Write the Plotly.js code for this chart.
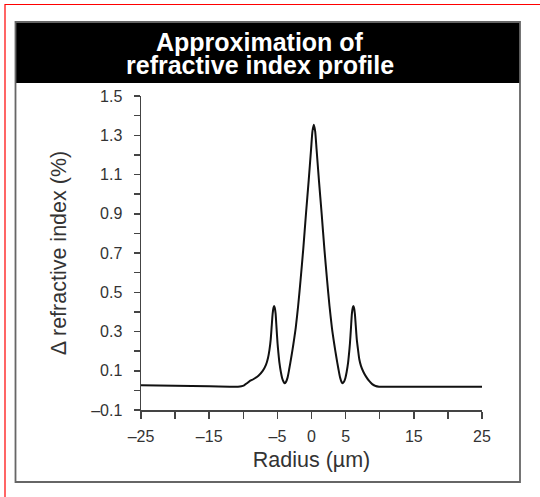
<!DOCTYPE html>
<html><head><meta charset="utf-8">
<script src="https://cdn.plot.ly/plotly-3.0.1.min.js"></script>
<style>html,body{margin:0;padding:0;background:#fff;overflow:hidden}#chart{width:540px;height:497px}</style>
</head><body><div id="chart"></div>
<script>
// Radius (µm)
const radius = [-25, -20, -15, -12, -10.78, -10.28, -9.88, -9.48, -9.15, -8.48, -7.78, -7.18, -6.68, -6.38, -6.17, -5.98, -5.83, -5.70, -5.58, -5.48, -5.38, -5.26, -5.13, -4.98, -4.85, -4.70, -4.50, -4.30, -4.10, -3.95, -3.76, -3.51, -3.26, -2.96, -2.66, -2.31, -1.96, -1.61, -1.21, -0.81, -0.41, -0.06, 0.14, 0.34, 0.54, 0.74, 1.09, 1.49, 1.89, 2.29, 2.64, 2.99, 3.34, 3.64, 3.94, 4.19, 4.39, 4.54, 4.76, 4.96, 5.16, 5.36, 5.51, 5.64, 5.79, 5.92, 6.04, 6.14, 6.24, 6.36, 6.49, 6.64, 6.83, 7.0, 7.25, 7.6, 8.0, 8.45, 8.9, 9.4, 9.9, 12, 15, 20, 25];
// Δ refractive index (%)
const deltaN = [0.026, 0.024, 0.021, 0.019, 0.019, 0.021, 0.026, 0.036, 0.045, 0.058, 0.075, 0.098, 0.13, 0.165, 0.205, 0.26, 0.33, 0.39, 0.42, 0.43, 0.42, 0.39, 0.32, 0.24, 0.19, 0.14, 0.095, 0.062, 0.044, 0.036, 0.042, 0.065, 0.11, 0.17, 0.235, 0.32, 0.43, 0.56, 0.72, 0.9, 1.07, 1.23, 1.32, 1.354, 1.32, 1.23, 1.07, 0.9, 0.72, 0.56, 0.43, 0.32, 0.235, 0.17, 0.11, 0.065, 0.044, 0.036, 0.044, 0.062, 0.095, 0.14, 0.19, 0.24, 0.32, 0.39, 0.42, 0.43, 0.42, 0.39, 0.33, 0.26, 0.205, 0.16, 0.125, 0.095, 0.07, 0.048, 0.032, 0.022, 0.019, 0.019, 0.018, 0.018, 0.018];

const xTickVals = [-25, -15, -5, 0, 5, 15, 25];
const xTickText = ['\u201325', '\u201315', '\u20135', '0', '5', '15', '25'];
const yTickVals = [-0.1, 0.1, 0.3, 0.5, 0.7, 0.9, 1.1, 1.3, 1.5];
const yTickText = ['\u20130.1', '0.1', '0.3', '0.5', '0.7', '0.9', '1.1', '1.3', '1.5'];
const titleLines = ['Approximation of', 'refractive index profile'];
const xTitle = 'Radius (\u00b5m)';
const yTitle = '\u0394 refractive index (%)';

const W = 540, H = 497, L = 141, R = 482, T = 96, B = 410;
const px = x => (x - L) / (R - L);
const py = y => (B - y) / (B - T);
const FONT = 'Liberation Sans, Arial, sans-serif';

const trace = {
  x: radius, y: deltaN, type: 'scatter', mode: 'lines',
  line: {color: '#111', width: 2, shape: 'spline', smoothing: 0.6},
  hoverinfo: 'skip'
};

const layout = {
  width: W, height: H,
  margin: {l: L, r: W - R, t: T, b: H - B, pad: 0},
  paper_bgcolor: 'rgba(0,0,0,0)', plot_bgcolor: 'rgba(0,0,0,0)',
  showlegend: false,
  font: {family: FONT, color: '#333'},
  xaxis: {
    range: [-25, 25], showgrid: false, zeroline: false,
    showline: true, linecolor: '#444', linewidth: 1.5,
    ticks: 'outside', ticklen: 7, tickwidth: 1.5, tickcolor: '#444',
    tickmode: 'array', tickvals: xTickVals, ticktext: xTickText,
    minor: {dtick: 5, tick0: 0, ticks: 'outside', ticklen: 7, tickwidth: 1.5, tickcolor: '#444', showgrid: false},
    tickfont: {size: 16, color: '#333', family: FONT},
    ticklabelstandoff: 4,
    title: {text: xTitle, font: {size: 21.5, color: '#333', family: FONT}, standoff: 8}
  },
  yaxis: {
    range: [-0.1, 1.5], showgrid: false, zeroline: false,
    showline: true, linecolor: '#444', linewidth: 1.5,
    ticks: 'outside', ticklen: 6, tickwidth: 1.5, tickcolor: '#444',
    tickmode: 'array', tickvals: yTickVals, ticktext: yTickText,
    minor: {dtick: 0.1, tick0: -0.1, ticks: 'outside', ticklen: 6, tickwidth: 1.5, tickcolor: '#444', showgrid: false},
    tickfont: {size: 16, color: '#333', family: FONT},
    ticklabelstandoff: 8,
    title: {text: yTitle, font: {size: 21.5, color: '#333', family: FONT}, standoff: 18}
  },
  shapes: [
    {type: 'rect', xref: 'paper', yref: 'paper', x0: px(5), x1: px(580), y0: py(4.5), y1: py(540),
     line: {color: '#ff0000', width: 1.2}, fillcolor: 'rgba(0,0,0,0)', layer: 'below'},
    {type: 'rect', xref: 'paper', yref: 'paper', x0: px(15.5), x1: px(520), y0: py(22), y1: py(83),
     line: {width: 0}, fillcolor: '#000', layer: 'below'},
    {type: 'rect', xref: 'paper', yref: 'paper', x0: px(15.5), x1: px(520), y0: py(22), y1: py(482),
     line: {color: '#666', width: 1.8}, fillcolor: 'rgba(0,0,0,0)', layer: 'below'}
  ],
  annotations: titleLines.map((t, i) => ({
    text: '<b>' + t + '</b>', xref: 'paper', yref: 'paper',
    x: px(260), y: py(i === 0 ? 42 : 65), xanchor: 'center', yanchor: 'middle',
    showarrow: false, font: {family: FONT, size: 25, color: '#fff'}
  }))
};

Plotly.newPlot('chart', [trace], layout, {staticPlot: true, displayModeBar: false});
</script></body></html>
